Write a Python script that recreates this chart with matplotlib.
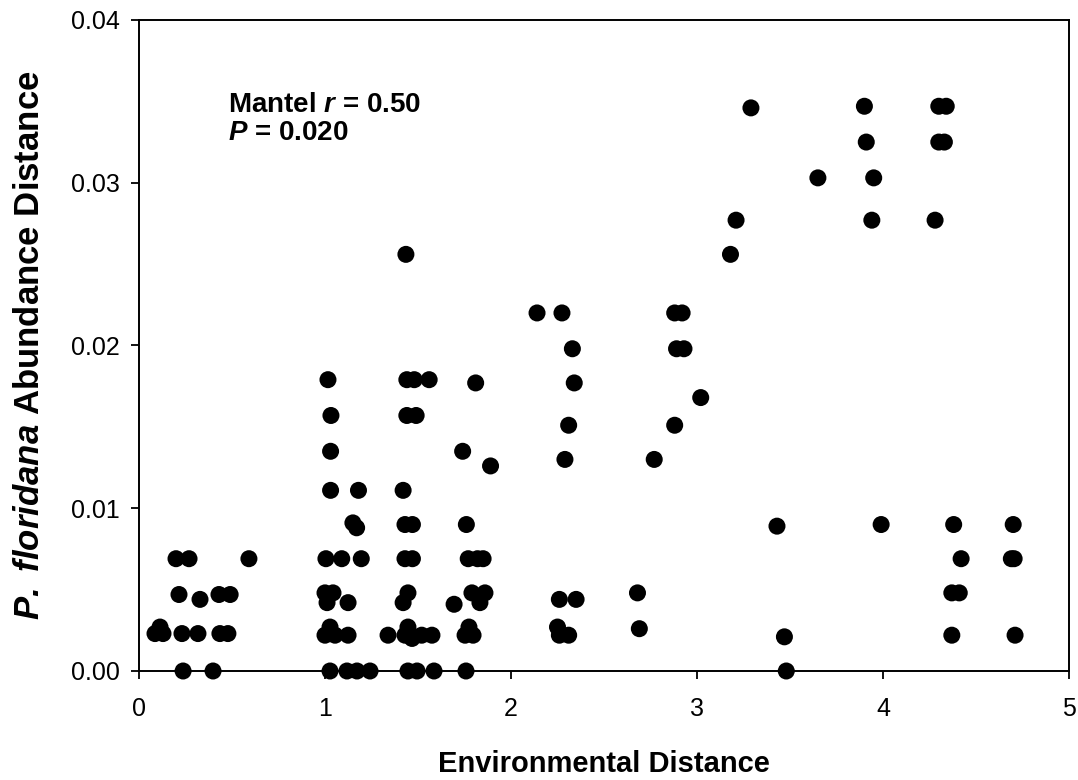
import matplotlib
matplotlib.use("Agg")
import matplotlib.pyplot as plt

plt.rcParams["font.family"] = ["Liberation Sans", "DejaVu Sans"]
plt.rcParams["mathtext.fontset"] = "custom"
plt.rcParams["mathtext.rm"] = "Liberation Sans:bold"
plt.rcParams["mathtext.bf"] = "Liberation Sans:bold"
plt.rcParams["mathtext.bfit"] = "Liberation Sans:italic:bold"
plt.rcParams["mathtext.it"] = "Liberation Sans:italic:bold"

# environmental distance vs. P. floridana abundance distance
env_dist = [
    # 0 - 0.6
    0.086, 0.129, 0.113, 0.231, 0.317, 0.435, 0.478,
    0.215, 0.328, 0.430, 0.490,
    0.199, 0.269, 0.591,
    0.237, 0.398,
    # 1.0 - 1.25
    1.016, 1.032, 1.030, 1.030, 1.180,
    1.150, 1.170,
    1.005, 1.090, 1.195,
    1.000, 1.043, 1.011, 1.124,
    1.027, 1.000, 1.054, 1.124,
    1.027, 1.118, 1.172, 1.242,
    # 1.3 - 1.6
    1.435, 1.440, 1.480, 1.560, 1.440, 1.490,
    1.420, 1.430, 1.470, 1.430, 1.470,
    1.446, 1.420,
    1.339, 1.446, 1.430, 1.468, 1.520, 1.575,
    1.446, 1.495, 1.586,
    # 1.65 - 1.9
    1.810, 1.740, 1.890, 1.760, 1.770, 1.820, 1.850,
    1.694, 1.790, 1.833, 1.860,
    1.774, 1.753, 1.796,
    1.758,
    # 2.1 - 2.35
    2.140, 2.274, 2.330, 2.340, 2.310, 2.290,
    2.260, 2.350, 2.250, 2.260, 2.310,
    # 2.65 - 3.05
    2.880, 2.920, 2.890, 2.930, 3.020, 2.880, 2.770,
    2.680, 2.690,
    # 3.15 - 3.5
    3.290, 3.210, 3.180, 3.430, 3.470, 3.480,
    # 3.6 - 4.0
    3.650, 3.900, 3.910, 3.950, 3.940, 3.990,
    # 4.25 - 4.75
    4.300, 4.340, 4.300, 4.330, 4.280,
    4.380, 4.700, 4.420, 4.690, 4.705, 4.370, 4.410, 4.370, 4.710,
]

abund_dist = [
    0.0023, 0.0023, 0.0027, 0.0023, 0.0023, 0.0023, 0.0023,
    0.0047, 0.0044, 0.0047, 0.0047,
    0.0069, 0.0069, 0.0069,
    0.0000, 0.0000,
    0.0179, 0.0157, 0.0135, 0.0111, 0.0111,
    0.0091, 0.0088,
    0.0069, 0.0069, 0.0069,
    0.0048, 0.0048, 0.0042, 0.0042,
    0.0027, 0.0022, 0.0022, 0.0022,
    0.0000, 0.0000, 0.0000, 0.0000,
    0.0256, 0.0179, 0.0179, 0.0179, 0.0157, 0.0157,
    0.0111, 0.0090, 0.0090, 0.0069, 0.0069,
    0.0048, 0.0042,
    0.0022, 0.0027, 0.0022, 0.0020, 0.0022, 0.0022,
    0.0000, 0.0000, 0.0000,
    0.0177, 0.0135, 0.0126, 0.0090, 0.0069, 0.0069, 0.0069,
    0.0041, 0.0048, 0.0042, 0.0048,
    0.0027, 0.0022, 0.0022,
    0.0000,
    0.0220, 0.0220, 0.0198, 0.0177, 0.0151, 0.0130,
    0.0044, 0.0044, 0.0027, 0.0022, 0.0022,
    0.0220, 0.0220, 0.0198, 0.0198, 0.0168, 0.0151, 0.0130,
    0.0048, 0.0026,
    0.0346, 0.0277, 0.0256, 0.0089, 0.0021, 0.0000,
    0.0303, 0.0347, 0.0325, 0.0303, 0.0277, 0.0090,
    0.0347, 0.0347, 0.0325, 0.0325, 0.0277,
    0.0090, 0.0090, 0.0069, 0.0069, 0.0069, 0.0048, 0.0048, 0.0022, 0.0022,
]

x_ticks = [0, 1, 2, 3, 4, 5]
y_ticks = [0.00, 0.01, 0.02, 0.03, 0.04]
y_ticklabels = ["0.00", "0.01", "0.02", "0.03", "0.04"]

fig = plt.figure(figsize=(10.78, 7.80), dpi=100)
ax = fig.add_axes([139 / 1078, 109 / 780, 930 / 1078, 651 / 780])

ax.scatter(env_dist, abund_dist, s=150, c="black", edgecolors="none",
           zorder=3, clip_on=False)

ax.set_xlim(0, 5)
ax.set_ylim(0, 0.04)
ax.set_xticks(x_ticks)
ax.set_yticks(y_ticks)
ax.set_yticklabels(y_ticklabels)
ax.tick_params(direction="out", length=6, width=1.3, labelsize=18)
ax.tick_params(axis="y", pad=8)
ax.tick_params(axis="x", pad=13)
for sp in ax.spines.values():
    sp.set_linewidth(1.4)

ax.set_xlabel("Environmental Distance", fontsize=21, fontweight="bold",
              va="baseline")
ax.xaxis.set_label_coords(0.5, -0.155)
ax.set_ylabel(r"$\mathbfit{P.}$ $\mathbfit{floridana}$ Abundance Distance",
              fontsize=25, fontweight="bold")
ax.yaxis.set_label_coords(-0.1, 0.5)

ax.text(0.096, 0.858, r"Mantel $\mathbfit{r}$ = 0.50", transform=ax.transAxes,
        fontsize=20, fontweight="bold", va="baseline", ha="left")
ax.text(0.096, 0.815, r"$\mathbfit{P}$ = 0.020", transform=ax.transAxes,
        fontsize=20, fontweight="bold", va="baseline", ha="left")

fig.savefig("out.png", dpi=100)
